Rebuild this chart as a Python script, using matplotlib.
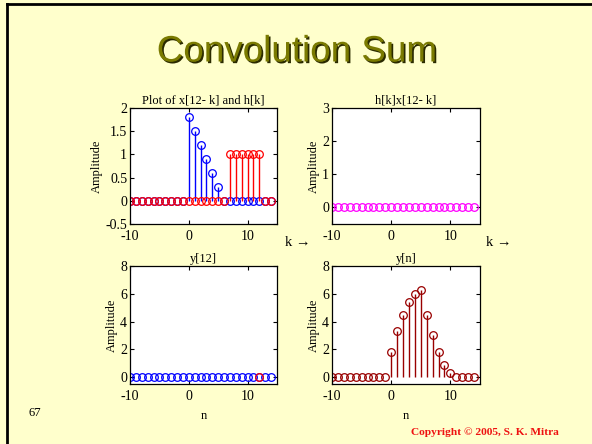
import numpy as np
import matplotlib
matplotlib.use("Agg")
from matplotlib import pyplot as plt
from matplotlib.lines import Line2D
from matplotlib import patheffects

plt.rcParams['font.family'] = ['Liberation Serif', 'DejaVu Serif']

# sample index (k or n), -10 .. 14
k = np.arange(-10, 15)

# h[k]
h = [0, 0, 0, 0, 0, 0, 0, 0, 0, 0,
     1.8, 1.5, 1.2, 0.9, 0.6, 0.3,
     0, 0, 0, 0, 0, 0, 0, 0, 0]
# x[12-k]
x_rev = [0, 0, 0, 0, 0, 0, 0, 0, 0, 0,
         0, 0, 0, 0, 0, 0, 0,
         1, 1, 1, 1, 1, 1,
         0, 0]
# h[k]x[12-k]
prod = [0] * 25
# y[n]
y = [0, 0, 0, 0, 0, 0, 0, 0, 0, 0,
     1.8, 3.3, 4.5, 5.4, 6.0, 6.3, 4.5, 3.0, 1.8, 0.9, 0.3,
     0, 0, 0, 0]
y12_n = [12]
y12_val = [0]

W, H = 592, 444
bg = '#ffffcc'
fig = plt.figure(figsize=(W / 100, H / 100), dpi=100, facecolor=bg)

# slide border
fig.add_artist(Line2D([7 / W, 1], [1 - 4 / H, 1 - 4 / H], color='black', lw=2,
                      transform=fig.transFigure))
fig.add_artist(Line2D([7 / W, 7 / W], [0, 1 - 4 / H], color='black', lw=2,
                      transform=fig.transFigure))

# slide title with shadow
fig.text(296.5 / W, 1 - 52 / H, 'Convolution Sum', ha='center', va='center',
         fontsize=26.5, family='Liberation Sans', color='#7a7a00',
         path_effects=[patheffects.withSimplePatchShadow(offset=(1.2, -1.2),
                                                         shadow_rgbFace='#2a2a00',
                                                         alpha=1)])


def make_ax(left, top, right, bottom):
    ax = fig.add_axes([left / W, 1 - bottom / H, (right - left) / W, (bottom - top) / H])
    ax.set_facecolor('white')
    ax.tick_params(direction='in', top=True, right=True, length=3, labelsize=10, pad=2)
    ax.tick_params(axis='x', pad=4)
    for s in ax.spines.values():
        s.set_linewidth(0.9)
    ax.set_xlim(-10, 15)
    ax.set_xticks([-10, 0, 10])
    ax.set_ylabel('Amplitude', fontsize=9, labelpad=2)
    return ax


def stem(ax, xs, ys, color):
    m, s, b = ax.stem(xs, ys, linefmt='-', markerfmt='o', basefmt=' ')
    plt.setp(s, color=color, linewidth=1)
    plt.setp(m, color=color, markerfacecolor='none', markersize=5.5, markeredgewidth=0.9)
    return m


ax1 = make_ax(130, 108, 277, 224)
stem(ax1, k, h, 'blue')
stem(ax1, k, x_rev, 'red')
ax1.set_ylim(-0.5, 2)
ax1.set_yticks([-0.5, 0, 0.5, 1, 1.5, 2])
ax1.set_yticklabels(['-0.5', '0', '0.5', '1', '1.5', '2'])
ax1.set_xticklabels(['-10', '0', '10'])
ax1.set_title('Plot of x[12- k] and h[k]', fontsize=9, pad=3)

ax2 = make_ax(332, 108, 480, 224)
stem(ax2, k, prod, 'magenta')
ax2.set_ylim(-0.5, 3)
ax2.set_yticks([0, 1, 2, 3])
ax2.set_xticklabels(['-10', '0', '10'])
ax2.set_title('h[k]x[12- k]', fontsize=9, pad=3)

ax3 = make_ax(130, 266, 277, 384)
stem(ax3, k, [0] * 25, 'blue')
stem(ax3, y12_n, y12_val, 'red')
ax3.set_ylim(-0.5, 8)
ax3.set_yticks([0, 2, 4, 6, 8])
ax3.set_xticklabels(['-10', '0', '10'])
ax3.set_title('y[12]', fontsize=9, pad=3)
ax3.set_xlabel('n', fontsize=9, labelpad=5)

ax4 = make_ax(332, 266, 480, 384)
stem(ax4, k, y, '#990000')
ax4.set_ylim(-0.5, 8)
ax4.set_yticks([0, 2, 4, 6, 8])
ax4.set_xticklabels(['-10', '0', '10'])
ax4.set_title('y[n]', fontsize=9, pad=3)
ax4.set_xlabel('n', fontsize=9, labelpad=5)

fig.text(298 / W, 1 - 243 / H, 'k \u2192', ha='center', va='center', fontsize=10.5,
         family=['Liberation Serif', 'DejaVu Sans'])
fig.text(499 / W, 1 - 243 / H, 'k \u2192', ha='center', va='center', fontsize=10.5,
         family=['Liberation Serif', 'DejaVu Sans'])

fig.text(35 / W, 1 - 413 / H, '67', ha='center', va='center', fontsize=9)
fig.text(485 / W, 1 - 432 / H, 'Copyright \u00a9 2005, S. K. Mitra', ha='center',
         va='center', fontsize=8.2, fontweight='bold', color='#ee1111')

fig.savefig('out.png', dpi=100, facecolor=bg)
